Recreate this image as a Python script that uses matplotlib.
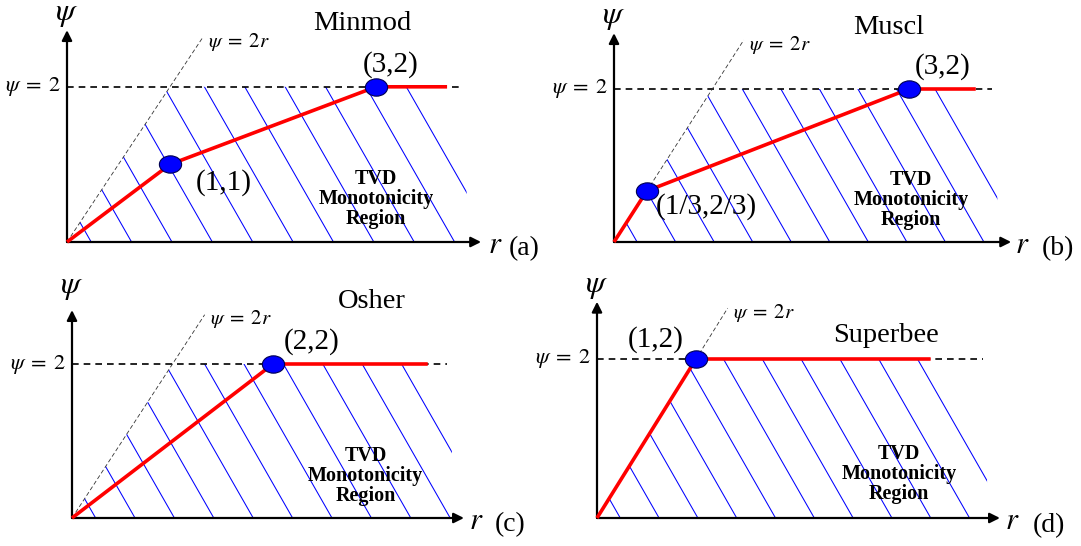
import matplotlib
matplotlib.use("Agg")
import matplotlib.pyplot as plt
import numpy as np
from matplotlib.path import Path
from matplotlib.patches import Polygon

plt.rcParams["font.family"] = ["Liberation Serif", "DejaVu Serif"]
plt.rcParams["mathtext.fontset"] = "stix"

W, H = 1081, 546

# limiter curves psi(r): breakpoints, last one is where the drawn segment stops
minmod_r = [0, 1, 3, 3.69]
minmod_psi = [0, 1, 2, 2]
muscl_r = [0, 1 / 3, 3, 3.68]
muscl_psi = [0, 2 / 3, 2, 2]
osher_r = [0, 2, 3.54]
osher_psi = [0, 2, 2]
superbee_r = [0, 1, 3.37]
superbee_psi = [0, 2, 2]

# marked corner points
minmod_pts_r = [1, 3]
minmod_pts_psi = [1, 2]
minmod_pts_lbl = ["(1,1)", "(3,2)"]
muscl_pts_r = [1 / 3, 3]
muscl_pts_psi = [2 / 3, 2]
muscl_pts_lbl = ["(1/3,2/3)", "(3,2)"]
osher_pts_r = [2]
osher_pts_psi = [2]
osher_pts_lbl = ["(2,2)"]
superbee_pts_r = [1]
superbee_pts_psi = [2]
superbee_pts_lbl = ["(1,2)"]

psi_cap = 2          # psi = 2 bound
two_r_top = 1.32     # how far the psi = 2r guide is drawn

# layout of each sub-diagram: origin in figure pixels, pixels per unit
panels = [
    dict(name="Minmod", tag="(a)", origin=(67, 242), scale=(103, 77.6),
         r=minmod_r, psi=minmod_psi, pr=minmod_pts_r, ppsi=minmod_pts_psi,
         plbl=minmod_pts_lbl, poff=[(54, -18), (15, 22)],
         name_xy=(2.87, 2.81), tvd_xy=(3.0, 0.55), r_xy=(4.16, -0.04),
         tag_xy=(4.44, -0.08), psi_xy=(0, 2.93), vtip=2.73, htip=4.02,
         dash_end=3.83, cut=3.88),
    dict(name="Muscl", tag="(b)", origin=(614, 242), scale=(98.3, 76.5),
         r=muscl_r, psi=muscl_psi, pr=muscl_pts_r, ppsi=muscl_pts_psi,
         plbl=muscl_pts_lbl, poff=[(60, -16), (34, 22)],
         name_xy=(2.79, 2.81), tvd_xy=(3.02, 0.55), r_xy=(4.15, -0.04),
         tag_xy=(4.52, -0.08), psi_xy=(0, 2.94), vtip=2.73, htip=4.04,
         dash_end=3.85, cut=3.90),
    dict(name="Osher", tag="(c)", origin=(72, 518), scale=(100.5, 77),
         r=osher_r, psi=osher_psi, pr=osher_pts_r, ppsi=osher_pts_psi,
         plbl=osher_pts_lbl, poff=[(39, 22)],
         name_xy=(2.98, 2.81), tvd_xy=(2.92, 0.55), r_xy=(4.02, -0.04),
         tag_xy=(4.36, -0.09), psi_xy=(0, 2.99), vtip=2.70, htip=3.90,
         dash_end=3.73, cut=3.78),
    dict(name="Superbee", tag="(d)", origin=(597, 518), scale=(99, 79.5),
         r=superbee_r, psi=superbee_psi, pr=superbee_pts_r, ppsi=superbee_pts_psi,
         plbl=superbee_pts_lbl, poff=[(-40, 19)],
         name_xy=(2.92, 2.30), tvd_xy=(3.05, 0.55), r_xy=(4.19, -0.04),
         tag_xy=(4.57, -0.09), psi_xy=(0, 2.91), vtip=2.72, htip=4.07,
         dash_end=3.90, cut=3.94),
]

# slightly flattened disc used for the corner markers
_circ = Path.unit_circle()
dot_marker = Path(_circ.vertices * np.array([1.0, 0.78]), _circ.codes)

fig = plt.figure(figsize=(W / 100, H / 100), dpi=100)
fig.patch.set_facecolor("white")

x0, x1, y0, y1 = -0.75, 4.9, -0.45, 3.15

for p in panels:
    ox, oy = p["origin"]
    sx, sy = p["scale"]
    ax = fig.add_axes([(ox + x0 * sx) / W, (H - oy + y0 * sy) / H,
                       (x1 - x0) * sx / W, (y1 - y0) * sy / H])
    ax.set_xlim(x0, x1)
    ax.set_ylim(y0, y1)
    ax.axis("off")
    ax.patch.set_alpha(0)

    # hatched TVD region: 0 <= psi <= min(2r, 2)
    cut = p["cut"]
    region = Polygon([(0, 0), (psi_cap / 2, psi_cap), (cut, psi_cap), (cut, 0)],
                     closed=True, fc="none", ec="none")
    ax.add_patch(region)
    slope = -1.75 * sx / sy
    for k in range(11):
        b = 0.235 + k * 0.392
        rr = np.array([b + (psi_cap + 0.2) / slope, b])
        ln, = ax.plot(rr, slope * (rr - b), color="#0000ff", lw=0.75, zorder=1)
        ln.set_clip_path(region)

    # guide lines
    ax.plot([0, p["dash_end"]], [psi_cap, psi_cap], color="black", lw=1.2,
            ls=(0, (4, 3)), zorder=2)
    ax.plot([0, two_r_top], [0, 2 * two_r_top], color="#333333", lw=0.6,
            ls=(0, (5, 3)), zorder=2)

    # axes with arrow heads
    arrow = dict(arrowstyle="-|>", color="black", lw=1.6, mutation_scale=15,
                 shrinkA=0, shrinkB=0)
    ax.annotate("", xy=(0, p["vtip"]), xytext=(0, 0), arrowprops=arrow, zorder=3)
    ax.annotate("", xy=(p["htip"], 0), xytext=(0, 0), arrowprops=arrow, zorder=3)

    # limiter
    ax.plot(p["r"], p["psi"], color="#ff0000", lw=2.6, zorder=4,
            solid_capstyle="butt")
    ax.plot(p["pr"], p["ppsi"], ls="none", marker=dot_marker, ms=16,
            mfc="#0000ff", mec="#000050", mew=0.8, zorder=5)
    for xr, yp, lbl, off in zip(p["pr"], p["ppsi"], p["plbl"], p["poff"]):
        ax.annotate(lbl, xy=(xr, yp), xytext=off, textcoords="offset pixels",
                    ha="center", va="center", fontsize=21, zorder=6)

    # labels
    ax.text(*p["name_xy"], p["name"], ha="center", va="center", fontsize=20.5)
    ax.text(*p["tvd_xy"], "TVD\nMonotonicity\nRegion", ha="center", va="center",
            fontsize=14.5, fontweight="bold", linespacing=1.0)
    ax.text(two_r_top + 0.05, 2 * two_r_top - 0.06, r"$\psi\;=\;2r$",
            ha="left", va="center", fontsize=15)
    ax.text(-0.06, psi_cap, r"$\psi\;=\;2$", ha="right", va="center", fontsize=16)
    ax.text(*p["psi_xy"], r"$\psi$", ha="center", va="center", fontsize=23)
    ax.text(*p["r_xy"], r"$r$", ha="center", va="center", fontsize=22)
    ax.text(*p["tag_xy"], p["tag"], ha="center", va="center", fontsize=20)

fig.savefig("out.png", dpi=100, facecolor="white")
